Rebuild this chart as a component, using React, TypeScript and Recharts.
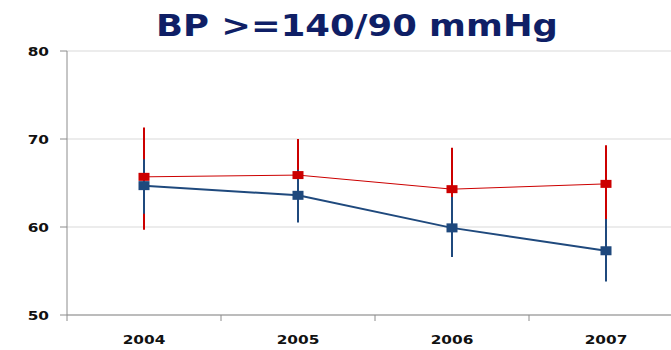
import React from 'react'
import { LineChart, Line, XAxis, YAxis, CartesianGrid, ErrorBar } from 'recharts'

const years = ['2004', '2005', '2006', '2007']
const redMean = [65.7, 65.9, 64.3, 64.9]
const redHigh = [71.3, 70.0, 69.0, 69.3]
const redLow = [59.7, 61.5, 59.5, 60.5]
const blueMean = [64.7, 63.6, 59.9, 57.3]
const blueHigh = [67.7, 66.5, 63.4, 60.9]
const blueLow = [61.5, 60.5, 56.6, 53.8]
const yTicks = [50, 60, 70, 80]
const bandEdges = [0, 1, 2, 3, 4]

const RED = '#CC0000'
const BLUE = '#1F497D'
const STRETCH = 1.18

const data = years.map((year, i) => ({
  x: i + 0.5,
  year,
  red: redMean[i],
  redErr: [+(redMean[i] - redLow[i]).toFixed(2), +(redHigh[i] - redMean[i]).toFixed(2)],
  blue: blueMean[i],
  blueErr: [+(blueMean[i] - blueLow[i]).toFixed(2), +(blueHigh[i] - blueMean[i]).toFixed(2)],
}))

const square = (fill: string, w: number, h: number) => (props: any) => {
  const { cx, cy, index } = props
  if (cx == null || cy == null) return <g key={index} />
  return <rect key={index} x={cx - w / 2} y={cy - h / 2} width={w} height={h} fill={fill} />
}

const fontProps = { fontFamily: 'DejaVu Sans', fontWeight: 'bold', fontSize: 13, fill: '#111' }

// the source picture is stretched sideways, so the labels are too
const YTick = ({ x, y, payload }: any) => (
  <text transform={`translate(${x},${y}) scale(${STRETCH},1)`} textAnchor="end" dy="0.36em" {...fontProps}>
    {payload.value}
  </text>
)

const XTick = ({ x, y, payload }: any) => (
  <text transform={`translate(${x},${y}) scale(${STRETCH},1)`} textAnchor="middle" dy="0.71em" {...fontProps}>
    {years[Math.floor(payload.value)]}
  </text>
)

const NoLabel = () => <g />

export default function App() {
  return (
    <div style={{ position: 'absolute', left: 0, top: 0, width: 671, height: 350, overflow: 'hidden', background: '#fff' }}>
      <div
        style={{
          position: 'absolute', left: 0, top: 8, width: 714, textAlign: 'center',
          fontFamily: 'DejaVu Sans', fontWeight: 'bold', fontSize: 30, color: '#0F1F66',
          transform: `scaleX(${STRETCH})`, transformOrigin: '357px 0',
        }}
      >
        BP &gt;=140/90 mmHg
      </div>
      <LineChart width={700} height={350} data={data} margin={{ top: 51, right: 17, bottom: 5, left: 0 }}>
        <CartesianGrid horizontal vertical={false} stroke="#D9D9D9" />
        <XAxis
          xAxisId="a"
          type="number"
          dataKey="x"
          domain={[0, 4]}
          ticks={bandEdges}
          tick={<NoLabel />}
          tickSize={6}
          height={1}
          stroke="#8C8C8C"
        />
        <XAxis
          xAxisId="b"
          type="number"
          dataKey="x"
          domain={[0, 4]}
          ticks={data.map(d => d.x)}
          axisLine={false}
          tickLine={false}
          tickSize={0}
          tickMargin={19}
          height={29}
          tick={<XTick />}
        />
        <YAxis
          domain={[50, 80]}
          ticks={yTicks}
          width={67}
          tickSize={7}
          tickMargin={11}
          stroke="#8C8C8C"
          tick={<YTick />}
        />
        <Line xAxisId="b" dataKey="red" stroke="none" dot={false} isAnimationActive={false}>
          <ErrorBar dataKey="redErr" width={0} stroke={RED} strokeWidth={2} direction="y" />
        </Line>
        <Line xAxisId="b" dataKey="blue" stroke="none" dot={false} isAnimationActive={false}>
          <ErrorBar dataKey="blueErr" width={0} stroke={BLUE} strokeWidth={2} direction="y" />
        </Line>
        <Line
          xAxisId="b"
          dataKey="red"
          stroke={RED}
          strokeWidth={1}
          dot={square(RED, 11, 8)}
          activeDot={false}
          isAnimationActive={false}
        />
        <Line
          xAxisId="b"
          dataKey="blue"
          stroke={BLUE}
          strokeWidth={2}
          dot={square(BLUE, 11, 9)}
          activeDot={false}
          isAnimationActive={false}
        />
      </LineChart>
    </div>
  )
}
